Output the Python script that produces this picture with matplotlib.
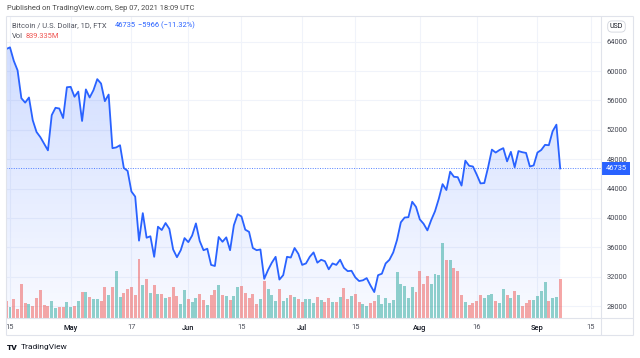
import numpy as np
import pandas as pd
import matplotlib
matplotlib.use("Agg")
import matplotlib.pyplot as plt
import matplotlib.dates as mdates
import matplotlib.transforms as mtransforms

plt.rcParams['font.family'] = ['Roboto', 'DejaVu Sans']

# ---------------- data ----------------
start_date = "2021-04-14"
prev_close = 63500  # close of the day before the first bar (colour of first volume bar)

close_apr = [63000, 63230, 61400, 60100, 56300, 55700, 56400, 53300, 51700, 51000,
             50100, 49200, 54000, 55000, 54900, 53600, 57800]
close_may = [57850, 56500, 57200, 53200, 57500, 56400, 57400, 58900, 58300, 55900,
             56800, 49500, 49600, 49900, 46800, 46400, 43600, 42900, 36900, 40650,
             37300, 37500, 34700, 38800, 38350, 39300, 38500, 35700, 34650, 35600, 37250]
close_jun = [36700, 37600, 39250, 36850, 35600, 35800, 33600, 33450, 37400, 36750,
             37350, 35600, 39000, 40500, 40200, 38400, 38100, 35900, 35600, 35700,
             31700, 32900, 33900, 34700, 31600, 32200, 34700, 34600, 35900, 35100]
close_jul = [33600, 33800, 34700, 35300, 33900, 34300, 34100, 33000, 33800, 33600,
             34300, 33200, 32750, 32800, 31900, 31400, 31500, 31800, 30800, 29900,
             32200, 32400, 33800, 34300, 35300, 37000, 39400, 40050, 40100, 42200, 41500]
close_aug = [39800, 39200, 38300, 39700, 40900, 42600, 44600, 43800, 46300, 45600,
             45550, 44400, 47800, 47100, 47000, 45900, 44700, 44750, 46900, 49300,
             48900, 49250, 49500, 47700, 49000, 46900, 49100, 48950, 48850, 47000, 47150]
close_sep = [48900, 49250, 49950, 49900, 51800, 52701, 46735]

vol_apr = [362, 245, 406, 195, 731, 319, 304, 267, 434, 614, 282, 267, 375, 210, 232, 232, 347]
vol_may = [245, 267, 362, 557, 557, 449, 406, 406, 375, 666, 505, 666, 1013, 462, 542, 636,
           666, 492, 1286, 709, 835, 538, 722, 527, 514, 434, 462, 679, 477, 310, 601]
vol_jun = [419, 341, 434, 527, 390, 282, 492, 601, 722, 492, 477, 384, 484, 666, 688, 542,
           434, 527, 297, 419, 803, 629, 492, 369, 623, 375, 434, 492, 460, 419]
vol_jul = [347, 406, 419, 332, 449, 390, 347, 427, 347, 347, 449, 651, 406, 471, 514, 347,
           297, 267, 332, 362, 499, 297, 434, 332, 384, 991, 731, 688, 434, 666, 564]
vol_aug = [1019, 731, 911, 731, 961, 933, 1627, 1252, 1265, 1085, 1026, 492, 347, 275, 319,
           362, 492, 434, 492, 527, 369, 319, 623, 492, 440, 579, 492, 260, 332, 384, 384]
vol_sep = [484, 592, 774, 362, 427, 455, 839.335]  # millions

tick_dates = ["2021-04-15", "2021-05-01", "2021-05-17", "2021-06-01", "2021-06-15",
              "2021-07-01", "2021-07-15", "2021-08-01", "2021-08-16", "2021-09-01", "2021-09-15"]
tick_labels = ["15", "May", "17", "Jun", "15", "Jul", "15", "Aug", "16", "Sep", "15"]
price_ticks = [28000, 32000, 36000, 40000, 44000, 48000, 52000, 56000, 60000, 64000]

close = np.array(close_apr + close_may + close_jun + close_jul + close_aug + close_sep, dtype=float)
volume = np.array(vol_apr + vol_may + vol_jun + vol_jul + vol_aug + vol_sep, dtype=float)
dates = pd.date_range(start_date, periods=len(close), freq="D")
x = mdates.date2num(dates)

BLUE = "#2962ff"
UP = (38/255, 166/255, 154/255, 0.5)
DOWN = (239/255, 83/255, 80/255, 0.5)
prev = np.concatenate([[prev_close], close[:-1]])
bar_colors = [UP if c >= p else DOWN for c, p in zip(close, prev)]

# ---------------- figure ----------------
W, H = 640, 358
fig = plt.figure(figsize=(W/100, H/100), dpi=100)
fig.patch.set_facecolor("white")
L, R, T, B = 6, 601, 16, 318
rect = [L/W, (H-B)/H, (R-L)/W, (B-T)/H]

ax = fig.add_axes(rect, zorder=1)
axv = fig.add_axes(rect, zorder=2, sharex=ax)
ov = fig.add_axes([0, 0, 1, 1], zorder=3)
ov.set_xlim(0, W); ov.set_ylim(H, 0); ov.axis("off"); ov.patch.set_visible(False)

y0, y1 = 26367, 67500
xl = x[0] - 0.05
xr = xl + 156.8

# gradient area
poly = ax.fill_between(x, close, y0, facecolor="none", edgecolor="none")
grad = np.zeros((256, 1, 4))
grad[..., 0], grad[..., 1], grad[..., 2] = 41/255, 98/255, 255/255
grad[:, 0, 3] = np.linspace(0.22, 0.03, 256)
im = ax.imshow(grad, extent=[x[0], x[-1], y0, close.max()], aspect="auto",
               origin="upper", zorder=1, interpolation="bilinear")
im.set_clip_path(poly.get_paths()[0], transform=ax.transData)

ax.plot(x, close, color=BLUE, lw=1.3, zorder=3, solid_joinstyle="round")
ax.axhline(close[-1], color=BLUE, lw=0.7, ls=(0, (1, 1.5)), zorder=2, alpha=0.8)

ax.set_xlim(xl, xr)
ax.set_ylim(y0, y1)
ax.set_xticks(mdates.date2num(pd.to_datetime(tick_dates)))
ax.set_xticklabels(tick_labels)
for lab, txt in zip(ax.get_xticklabels(), tick_labels):
    if txt.isalpha():
        lab.set_color("#131722"); lab.set_fontweight("medium")
    else:
        lab.set_color("#50535e")
ax.set_yticks(price_ticks)
ax.set_yticklabels([str(p) for p in price_ticks])
ax.yaxis.tick_right()
ax.tick_params(axis="x", length=0, pad=4.5, labelsize=5.4)
ax.tick_params(axis="y", length=0, pad=4, labelsize=5.4, labelcolor="#434651")
ax.grid(True, color="#f0f3fa", lw=0.8)
ax.set_axisbelow(True)
for s in ax.spines.values():
    s.set_visible(False)

# volume
axv.bar(x, volume, width=0.78, color=bar_colors, linewidth=0)
axv.set_ylim(0, 839.335 * 302 / 38.7)
axv.set_xlim(xl, xr)
axv.axis("off")
axv.patch.set_visible(False)

# last price label
tr = mtransforms.blended_transform_factory(ax.transAxes, ax.transData)
ax.text((616 - L) / (R - L), close[-1], f"{int(close[-1])}", transform=tr, ha="center",
        va="center", color="white", fontsize=5.4, clip_on=False, zorder=5,
        bbox=dict(boxstyle="square,pad=0.45", fc=BLUE, ec="none"))

# frame
fc = "#e0e3eb"
for (xa, ya, xb, yb) in [(L, T, 633, T), (L, T, L, 335), (633, T, 633, 335), (L, 335, 633, 335),
                         (R, T, R, 335), (L, B, 633, B)]:
    ov.plot([xa, xb], [ya, yb], color=fc, lw=0.8, solid_capstyle="butt")

ov.text(616.5, 26.5, "USD", ha="center", va="center", fontsize=5, color="#131722",
        bbox=dict(boxstyle="round,pad=0.3,rounding_size=0.6", fc="white", ec="#d1d4dc", lw=0.6))

# header texts
chg = close[-1] - close[-2]
pct = chg / close[-2] * 100
ov.text(7, 8, "Published on TradingView.com, Sep 07, 2021 18:09 UTC", fontsize=5.4,
        color="#4a4a4a", va="center", ha="left")
ov.text(12, 25.5, "Bitcoin / U.S. Dollar, 1D, FTX", fontsize=5.4, color="#50535e", va="center")
ov.text(115, 25.5, f"{int(close[-1])}", fontsize=5.4, color=BLUE, va="center")
ov.text(138, 25.5, f"\u2212{abs(int(chg))} (\u2212{abs(pct):.2f}%)", fontsize=5.4, color=BLUE, va="center")
ov.text(12, 36.7, "Vol", fontsize=5.4, color="#50535e", va="center")
ov.text(26, 36.7, f"{volume[-1]:.3f}M", fontsize=5.4, color="#ef5350", va="center")

# logo
ov.text(6.5, 347, "TV", fontsize=6, fontweight="heavy", color="#131722", va="center")
ov.text(21, 347, "TradingView", fontsize=6, color="#131722", va="center")

fig.savefig("out.png", dpi=100, facecolor="white")
